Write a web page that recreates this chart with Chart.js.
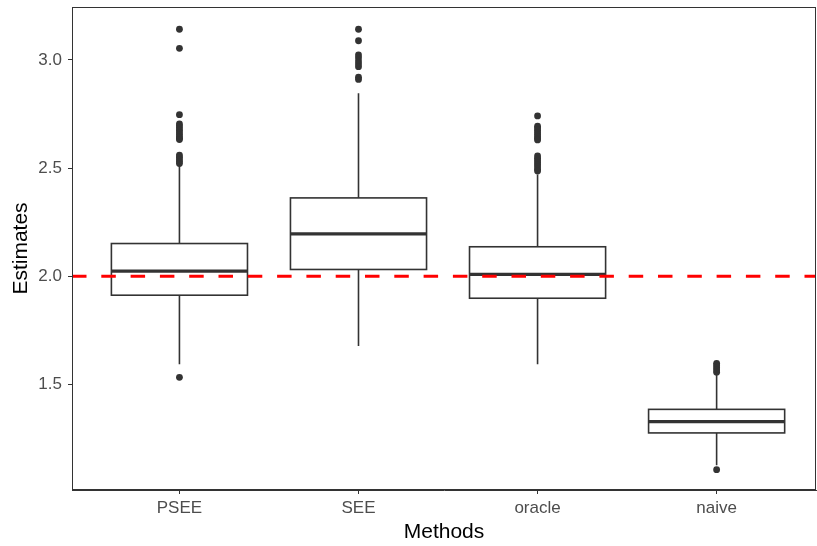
<!DOCTYPE html>
<html>
<head>
<meta charset="utf-8">
<script src="https://cdn.jsdelivr.net/npm/chart.js@4"></script>
<style>
  html, body { margin: 0; padding: 0; background: #fff; overflow: hidden; }
  #wrap { width: 817px; height: 546px; position: relative; }
  #boxChart { display: block; }
</style>
</head>
<body>
<div id="wrap"><canvas id="boxChart"></canvas></div>
<script>
const methods = ['PSEE', 'SEE', 'oracle', 'naive'];
const yTicks = [1.5, 2.0, 2.5, 3.0];

// five-number summaries
const whiskerLow  = [1.593, 1.677, 1.593, 1.125];
const q1          = [1.912, 2.031, 1.898, 1.275];
const medians     = [2.023, 2.196, 2.008, 1.327];
const q3          = [2.151, 2.362, 2.136, 1.384];
const whiskerHigh = [2.510, 2.846, 2.470, 1.545];

const outliersPSEE = [3.142, 3.054, 2.747, 2.704, 2.695, 2.685, 2.675, 2.665, 2.655, 2.645, 2.638, 2.632,
                      2.560, 2.550, 2.540, 2.530, 2.521, 1.532];
const outliersSEE = [3.142, 3.089, 3.023, 3.010, 2.995, 2.982, 2.969, 2.920, 2.910];
const outliersOracle = [2.741, 2.694, 2.685, 2.675, 2.665, 2.655, 2.645, 2.637, 2.630,
                        2.556, 2.545, 2.535, 2.525, 2.515, 2.505, 2.495, 2.486];
const outliersNaive = [1.597, 1.587, 1.577, 1.566, 1.556, 1.105];

const trueValue = 2.0;
const boxWidth = 0.76;

const outlierPoints = [outliersPSEE, outliersSEE, outliersOracle, outliersNaive]
    .flatMap((vals, i) => vals.map(v => ({ x: i + 1, y: v })));

const ink = '#333333';

const boxPlugin = {
    id: 'boxes',
    beforeDatasetsDraw(chart) {
        const { ctx, scales: { x, y } } = chart;
        ctx.save();
        ctx.strokeStyle = ink;
        ctx.fillStyle = '#ffffff';
        methods.forEach((m, i) => {
            const cx = x.getPixelForValue(i + 1);
            const left = x.getPixelForValue(i + 1 - boxWidth / 2);
            const right = x.getPixelForValue(i + 1 + boxWidth / 2);
            const top = y.getPixelForValue(q3[i]);
            const bottom = y.getPixelForValue(q1[i]);

            // whiskers
            ctx.lineWidth = 1.6;
            ctx.beginPath();
            ctx.moveTo(cx, y.getPixelForValue(whiskerHigh[i]));
            ctx.lineTo(cx, top);
            ctx.moveTo(cx, bottom);
            ctx.lineTo(cx, y.getPixelForValue(whiskerLow[i]));
            ctx.stroke();

            // box
            ctx.fillRect(left, top, right - left, bottom - top);
            ctx.strokeRect(left, top, right - left, bottom - top);

            // median
            ctx.lineWidth = 3.2;
            ctx.beginPath();
            const my = y.getPixelForValue(medians[i]);
            ctx.moveTo(left, my);
            ctx.lineTo(right, my);
            ctx.stroke();
        });
        ctx.restore();
    },
    afterDraw(chart) {
        const { ctx, chartArea: a } = chart;
        ctx.save();
        ctx.strokeStyle = ink;
        ctx.lineWidth = 1;
        ctx.strokeRect(Math.round(a.left) + 0.5, Math.round(a.top) + 0.5,
                       Math.round(a.right - a.left) - 1, Math.round(a.bottom - a.top) - 1);
        ctx.restore();
    }
};

new Chart(document.getElementById('boxChart'), {
    type: 'scatter',
    data: {
        datasets: [
            {
                type: 'line',
                label: 'true value',
                data: [{ x: 0.4, y: trueValue }, { x: 4.6, y: trueValue }],
                borderColor: '#ff0000',
                borderWidth: 3,
                borderDash: [14.5, 14.8],
                pointRadius: 0,
                fill: false
            },
            {
                label: 'outliers',
                data: outlierPoints,
                backgroundColor: ink,
                borderColor: ink,
                borderWidth: 0,
                pointRadius: 3.4
            }
        ]
    },
    options: {
        responsive: true,
        maintainAspectRatio: false,
        animation: false,
        layout: { autoPadding: false, padding: { top: 7, right: 1, left: 0, bottom: 0 } },
        plugins: {
            legend: { display: false },
            tooltip: { enabled: false }
        },
        scales: {
            x: {
                type: 'linear',
                min: 0.4,
                max: 4.555,
                afterBuildTicks: s => { s.ticks = methods.map((m, i) => ({ value: i + 1 })); },
                afterFit: s => { s.height = 56; s.paddingLeft = 0; s.paddingRight = 0; },
                ticks: {
                    callback: v => methods[v - 1],
                    color: '#4d4d4d',
                    font: { family: 'Liberation Sans', size: 17 },
                    padding: 4,
                    maxRotation: 0,
                    autoSkip: false
                },
                grid: { drawOnChartArea: false, tickLength: 4, color: ink },
                border: { display: true, color: ink, width: 1 },
                title: {
                    display: true,
                    text: 'Methods',
                    color: '#000',
                    font: { family: 'Liberation Sans', size: 21 },
                    padding: { top: 0, bottom: 1 }
                }
            },
            y: {
                min: 1.011,
                max: 3.245,
                afterBuildTicks: s => { s.ticks = yTicks.map(v => ({ value: v })); },
                afterFit: s => { s.width = 72; s.paddingTop = 0; s.paddingBottom = 0; },
                ticks: {
                    callback: v => v.toFixed(1),
                    color: '#4d4d4d',
                    font: { family: 'Liberation Sans', size: 17 },
                    padding: 6
                },
                grid: { drawOnChartArea: false, tickLength: 4, color: ink },
                border: { display: true, color: ink, width: 1 },
                title: {
                    display: true,
                    text: 'Estimates',
                    color: '#000',
                    font: { family: 'Liberation Sans', size: 21 },
                    padding: { top: 9, bottom: 0 }
                }
            }
        }
    },
    plugins: [boxPlugin]
});
</script>
</body>
</html>
